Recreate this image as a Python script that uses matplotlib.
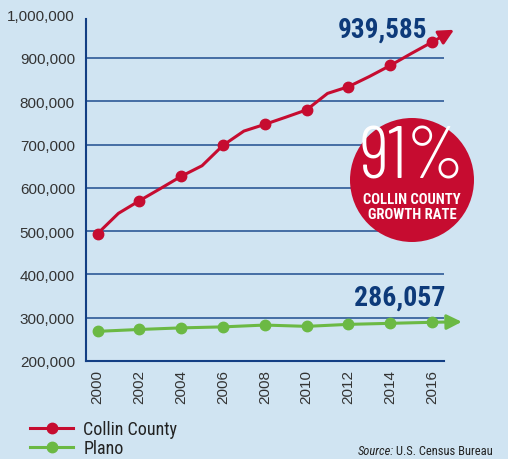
import matplotlib
matplotlib.use('Agg')
import matplotlib.pyplot as plt
from matplotlib.patches import Circle
from matplotlib.lines import Line2D
from matplotlib import font_manager

# population data
years = [2000, 2001, 2002, 2003, 2004, 2005, 2006, 2007, 2008,
         2009, 2010, 2011, 2012, 2013, 2014, 2015, 2016]
collin = [494000, 541000, 570000, 598000, 626500, 651000, 698000, 731000, 746500,
          763000, 780000, 818000, 833500, 857000, 882500, 910000, 936500]
plano_years = [2000, 2002, 2004, 2006, 2008, 2010, 2012, 2014, 2016]
plano = [268500, 272800, 276500, 278800, 283000, 280000, 284600, 287000, 289400]

yticks = [200000, 300000, 400000, 500000, 600000, 700000, 800000, 900000, 1000000]
xticks = [2000, 2002, 2004, 2006, 2008, 2010, 2012, 2014, 2016]

bg = '#d0e4f2'
red = '#c60c30'
green = '#6bb944'
navy = '#133f84'
gridc = '#3a649e'

have = {f.name for f in font_manager.fontManager.ttflist}


def pick(cands):
    for c in cands:
        if c in have:
            return [c, 'DejaVu Sans']
    return ['DejaVu Sans']


narrow = pick(['Roboto Condensed', 'Archivo Narrow', 'Barlow Condensed', 'Liberation Sans Narrow',
               'Sofia Sans Condensed', 'Asap Condensed'])
thin = pick(['Barlow Condensed', 'Roboto Condensed', 'Sofia Sans Extra Condensed',
             'Saira ExtraCondensed', 'Asap Condensed'])

fig = plt.figure(figsize=(5.08, 4.6), dpi=100, facecolor=bg)
ax = fig.add_axes([86 / 508, 1 - 362 / 460, 358 / 508, 346.4 / 460])
ax.set_facecolor(bg)

ax.set_xlim(1999.45, 2016.57)
ax.set_ylim(200000, 1000000)

for v in yticks[1:-1]:
    ax.axhline(v, color=gridc, lw=1.3, zorder=1)

ax.plot(years, collin, color=red, lw=2.2, marker='o', ms=7.5,
        markevery=[i for i, y in enumerate(years) if y % 2 == 0], zorder=4, clip_on=False)
ax.plot(plano_years, plano, color=green, lw=2.2, marker='o', ms=7.5, zorder=4, clip_on=False)

# arrow heads past the last year
ax.annotate('', xy=(2017.05, 965000), xytext=(years[-1], collin[-1]), annotation_clip=False,
            arrowprops=dict(arrowstyle='-|>,head_length=0.9,head_width=0.45', color=red, lw=2.2,
                            shrinkA=0, shrinkB=0), zorder=4)
ax.annotate('', xy=(2017.42, 290500), xytext=(plano_years[-1], plano[-1]), annotation_clip=False,
            arrowprops=dict(arrowstyle='-|>,head_length=0.9,head_width=0.45', color=green, lw=2.2,
                            shrinkA=0, shrinkB=0), zorder=4)

ax.text(2013.65, 966000, '939,585', family=narrow, weight='bold', fontsize=19.5,
        color='#0d3a7a', ha='center', va='center')
ax.text(2014.47, 348000, '286,057', family=narrow, weight='bold', fontsize=20,
        color='#0d3a7a', ha='center', va='center')

for s in ['top', 'right']:
    ax.spines[s].set_visible(False)
ax.spines['left'].set_color(navy)
ax.spines['bottom'].set_color(navy)
ax.spines['left'].set_linewidth(1.5)
ax.spines['bottom'].set_linewidth(1.5)
ax.spines['left'].set_bounds(200000, 990000)

ax.set_yticks(yticks)
ax.set_yticklabels([f'{v:,}' for v in yticks])
ax.set_xticks(xticks)
ax.set_xticklabels([str(x) for x in xticks], rotation=90)
ax.tick_params(axis='y', length=0, pad=8, labelsize=11, labelcolor='#333333')
ax.tick_params(axis='x', length=0, pad=6, labelsize=11, labelcolor='#333333')
for lbl in ax.get_xticklabels() + ax.get_yticklabels():
    lbl.set_family('Liberation Sans')

# growth rate badge
circ = Circle((4.12, 4.6 - 1.81), 0.62, transform=fig.dpi_scale_trans,
              facecolor=red, edgecolor='none', zorder=5)
fig.patches.append(circ)
fig.text(412 / 508, 1 - 160 / 460, '91%', family=thin, weight=300, fontsize=53, color='white',
         ha='center', va='center', zorder=6)
fig.text(412 / 508, 1 - 200 / 460, 'COLLIN COUNTY', family=narrow, weight='bold', fontsize=10.5,
         color='white', ha='center', va='center', zorder=6)
fig.text(412 / 508, 1 - 215 / 460, 'GROWTH RATE', family=narrow, weight='bold', fontsize=10.5,
         color='white', ha='center', va='center', zorder=6)

handles = [Line2D([], [], color=red, lw=2.2, marker='o', ms=7.5),
           Line2D([], [], color=green, lw=2.2, marker='o', ms=7.5)]
fig.legend(handles, ['Collin County', 'Plano'], loc='upper left',
           bbox_to_anchor=(30 / 508, 1 - 421 / 460), frameon=False,
           prop={'family': narrow, 'size': 13}, handlelength=2.4, handletextpad=0.55,
           labelspacing=0.05, borderpad=0, borderaxespad=0, labelcolor='#222222')

src = fig.text(358 / 508, 1 - 455 / 460, 'Source:', family=narrow, style='italic', fontsize=9,
               color='#222222', va='baseline')
fig.canvas.draw()
x1 = src.get_window_extent().x1 / fig.bbox.width
fig.text(x1 + 2 / 508, 1 - 455 / 460, 'U.S. Census Bureau', family=narrow, fontsize=9,
         color='#222222', va='baseline')

fig.savefig('out.png', dpi=100, facecolor=bg)
